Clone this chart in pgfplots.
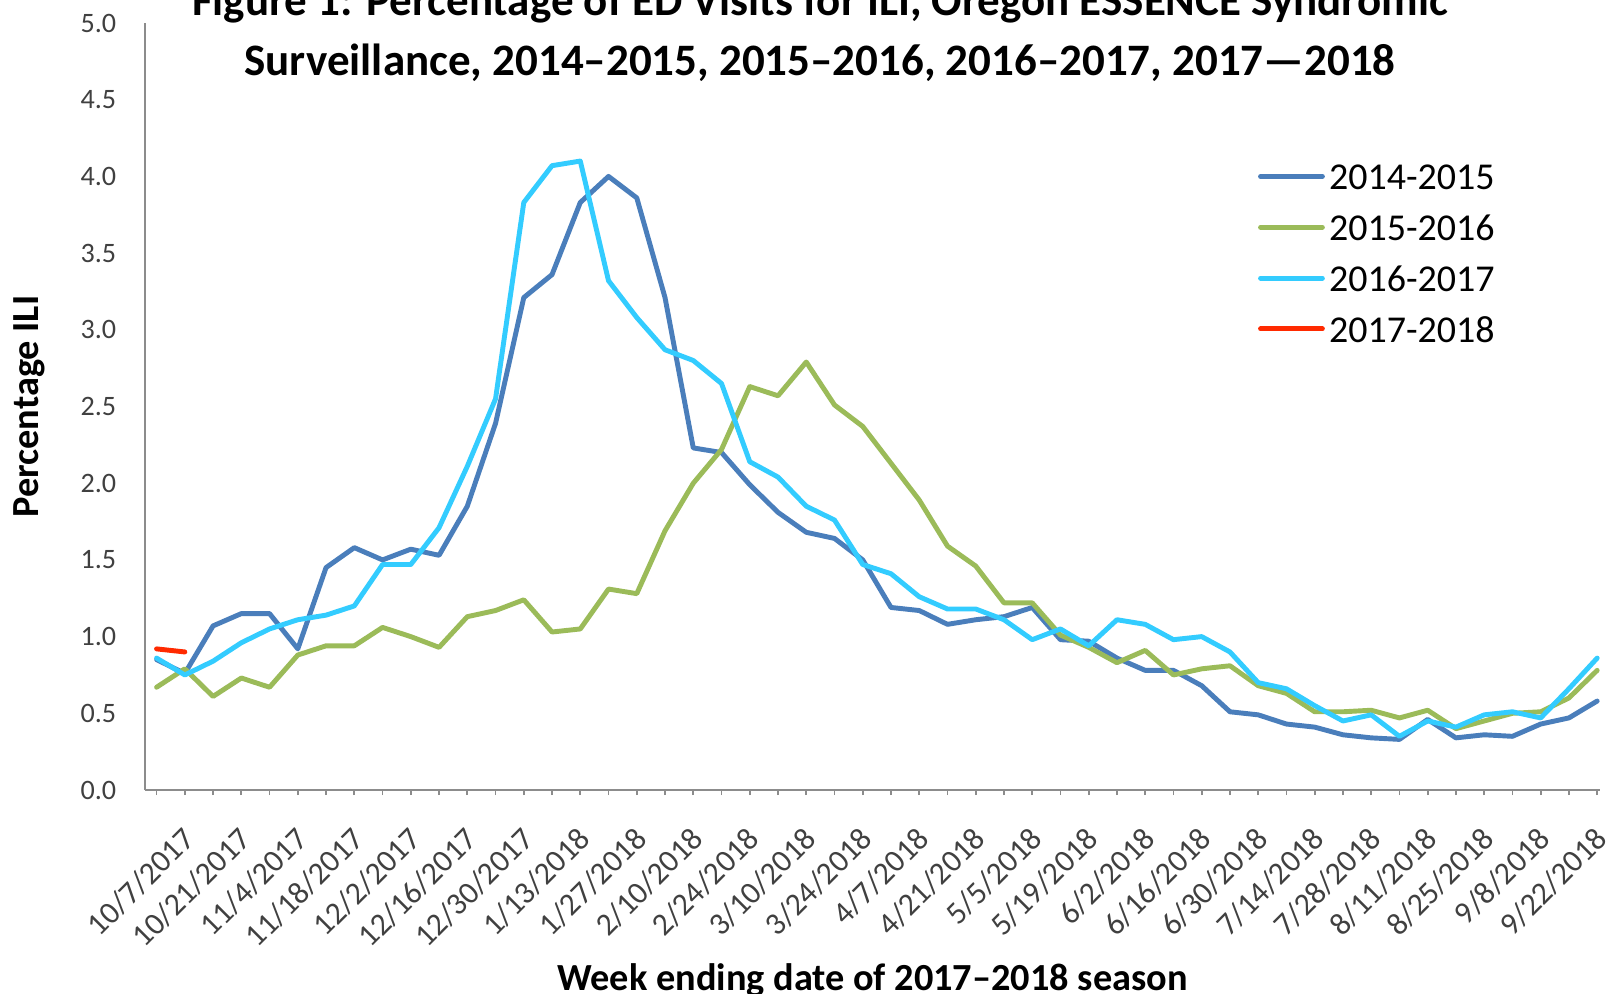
\documentclass[border=0pt]{standalone}
\usepackage{fontspec}
\setmainfont{Carlito}
\usepackage{pgfplots}
\usepackage{pgfplotstable}
\pgfplotsset{compat=1.18}

\definecolor{sA}{HTML}{4A7EBB}
\definecolor{sB}{HTML}{9BBB59}
\definecolor{sC}{HTML}{33CCFF}
\definecolor{sD}{HTML}{FF2A00}
\definecolor{axgray}{HTML}{8C8C8C}
\definecolor{lblgray}{HTML}{404040}

% week index, 2014-15, 2015-16, 2016-17
\pgfplotstableread{
i a b c
0 0.85 0.67 0.86
1 0.76 0.79 0.75
2 1.07 0.61 0.84
3 1.15 0.73 0.96
4 1.15 0.67 1.05
5 0.92 0.88 1.11
6 1.45 0.94 1.14
7 1.58 0.94 1.20
8 1.50 1.06 1.47
9 1.57 1.00 1.47
10 1.53 0.93 1.71
11 1.85 1.13 2.11
12 2.39 1.17 2.55
13 3.21 1.24 3.83
14 3.36 1.03 4.07
15 3.83 1.05 4.10
16 4.00 1.31 3.32
17 3.86 1.28 3.08
18 3.21 1.69 2.87
19 2.23 2.00 2.80
20 2.20 2.22 2.65
21 1.99 2.63 2.14
22 1.81 2.57 2.04
23 1.68 2.79 1.85
24 1.64 2.51 1.76
25 1.50 2.37 1.47
26 1.19 2.13 1.41
27 1.17 1.89 1.26
28 1.08 1.59 1.18
29 1.11 1.46 1.18
30 1.13 1.22 1.11
31 1.19 1.22 0.98
32 0.98 1.01 1.05
33 0.97 0.93 0.94
34 0.86 0.83 1.11
35 0.78 0.91 1.08
36 0.78 0.75 0.98
37 0.68 0.79 1.00
38 0.51 0.81 0.90
39 0.49 0.68 0.70
40 0.43 0.63 0.66
41 0.41 0.51 0.55
42 0.36 0.51 0.45
43 0.34 0.52 0.49
44 0.33 0.47 0.35
45 0.46 0.52 0.45
46 0.34 0.40 0.41
47 0.36 0.45 0.49
48 0.35 0.50 0.51
49 0.43 0.51 0.47
50 0.47 0.60 0.66
51 0.58 0.78 0.86
}\ili

\pgfplotstableread{
i d
0 0.92
1 0.90
}\current

\begin{document}
\begin{tikzpicture}
\begin{axis}[
    at={(1.45cm,-7.90cm)}, anchor=south west,
    scale only axis, width=14.55cm, height=7.67cm,
    xmin=-0.41, xmax=51.1, ymin=0, ymax=5,
    axis x line=bottom, axis y line=left,
    axis line style={axgray, line width=0.5pt, -},
    tick align=outside, major tick length=1.45pt,
    xtick={0,...,51},
    xticklabels={10/7/2017,,10/21/2017,,11/4/2017,,11/18/2017,,12/2/2017,,12/16/2017,,12/30/2017,,1/13/2018,,1/27/2018,,2/10/2018,,2/24/2018,,3/10/2018,,3/24/2018,,4/7/2018,,4/21/2018,,5/5/2018,,5/19/2018,,6/2/2018,,6/16/2018,,6/30/2018,,7/14/2018,,7/28/2018,,8/11/2018,,8/25/2018,,9/8/2018,,9/22/2018,},
    x tick style={axgray, line width=0.5pt},
    ytick={0,0.5,...,5},
    y tick style={draw=none},
    yticklabel={\pgfmathprintnumber[fixed,fixed zerofill,precision=1]{\tick}},
    /pgf/number format/assume math mode=true,
    tick label style={font=\fontsize{8}{9.6}\selectfont, text=lblgray},
    xticklabel style={font=\fontsize{9}{10.8}\selectfont, inner sep=0pt,
        xshift=3.3mm, yshift=-3.8mm, rotate=45, anchor=east},
    yticklabel style={xshift=-3.2pt},
    xlabel={Week ending date of 2017–2018 season},
    ylabel={Percentage ILI},
    label style={font=\bfseries\fontsize{10.9}{13}\selectfont},
    xlabel style={at={(axis description cs:0.5,-0.261)}, anchor=base},
    ylabel style={at={(axis description cs:-0.0797,0.5)}, anchor=center},
    every axis plot/.append style={line width=1.4pt, line join=round, line cap=round},
    legend style={at={(axis description cs:0.7650,0.8160)}, anchor=north west,
        draw=none, fill=none, inner sep=0pt, outer sep=0pt,
        row sep=7.2pt, column sep=1.2pt,
        font=\fontsize{10.8}{13}\selectfont,
        nodes={inner sep=0pt, text height=7pt, text depth=0pt}},
    legend cell align=left,
    legend image code/.code={
        \path[draw=none, fill=none] (0pt,-3.24pt) rectangle (19pt,3.76pt);
        \draw[#1, line width=1.4pt, line cap=round] (0.7pt,0.26pt) -- (18.3pt,0.26pt);},
]
\addplot[sA] table[x=i, y=a] {\ili};
\addlegendentry{2014-2015}
\addplot[sB] table[x=i, y=b] {\ili};
\addlegendentry{2015-2016}
\addplot[sC] table[x=i, y=c] {\ili};
\addlegendentry{2016-2017}
\addplot[sD] table[x=i, y=d] {\current};
\addlegendentry{2017-2018}
\end{axis}
\node[font=\bfseries\fontsize{12.8}{15}\selectfont, anchor=base] at (8.20,-0.15)
    {Figure 1: Percentage of ED Visits for ILI, Oregon ESSENCE Syndromic};
\node[font=\bfseries\fontsize{12.8}{15}\selectfont, anchor=base] at (8.20,-0.75)
    {Surveillance, 2014–2015, 2015–2016, 2016–2017, 2017—2018};
\pgfresetboundingbox
\useasboundingbox (0,0) rectangle (16.08,-9.93);
\end{tikzpicture}
\end{document}
